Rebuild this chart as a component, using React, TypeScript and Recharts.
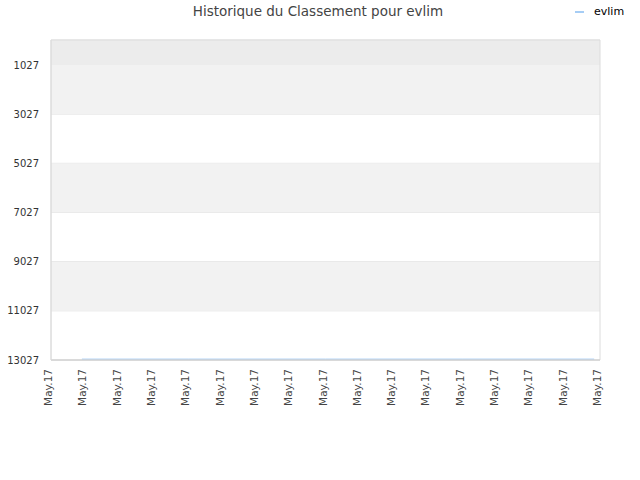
import React from 'react'
import { LineChart, Line, XAxis, YAxis, CartesianGrid, ReferenceArea } from 'recharts'

const title = 'Historique du Classement pour evlim'
const seriesName = 'evlim'
const tickLabel = 'May.17'

// x positions of the recorded points (in tick units) and the rank at each
const dayPositions = [0.9, 4, 8, 12, 15.83]
const ranks = [12990, 12990, 12990, 12990, 12990]

const xTicks = [0, 1, 2, 3, 4, 5, 6, 7, 8, 9, 10, 11, 12, 13, 14, 15, 16]
const yTicks = [1027, 3027, 5027, 7027, 9027, 11027, 13027]
const yDomain = [11, 13027]

const bands = [
  { from: 11, to: 1027, fill: '#ececec' },
  { from: 1027, to: 3027, fill: '#f2f2f2' },
  { from: 5027, to: 7027, fill: '#f2f2f2' },
  { from: 9027, to: 11027, fill: '#f2f2f2' },
]

const data = dayPositions.map((x, i) => ({ x, rank: ranks[i] }))

const font = "'DejaVu Sans', sans-serif"

const XTick = (props: any) => {
  const { x, y } = props
  return (
    <text
      x={0}
      y={0}
      transform={`translate(${x + 1},${y + 1}) rotate(-90)`}
      textAnchor="end"
      fontSize={10.5}
      fill="#444"
      fontFamily={font}
    >
      {tickLabel}
    </text>
  )
}

export default function App() {
  return (
    <div style={{ position: 'absolute', left: 0, top: 0, width: 640, height: 480, background: '#fff', fontFamily: font }}>
      <div style={{ position: 'absolute', top: 3, left: 0, width: 636, textAlign: 'center', fontSize: 13.5, color: '#444' }}>
        {title}
      </div>
      <div style={{ position: 'absolute', top: 5, left: 575, fontSize: 11, color: '#000', display: 'flex', alignItems: 'center' }}>
        <span style={{ display: 'inline-block', width: 9, height: 2, background: '#a6cdf5', marginRight: 10 }} />
        {seriesName}
      </div>
      <LineChart
        width={640}
        height={480}
        data={data}
        margin={{ top: 40, right: 40, left: 0, bottom: 0 }}
        style={{ position: 'absolute', left: 0, top: 0 }}
      >
        {bands.map((b, i) => (
          <ReferenceArea key={i} y1={b.from} y2={b.to} fill={b.fill} fillOpacity={1} stroke="none" ifOverflow="hidden" />
        ))}
        <CartesianGrid vertical={false} stroke="#e2e2e2" />
        <ReferenceArea y1={yDomain[0]} y2={yDomain[1]} fill="none" stroke="#dcdcdc" strokeWidth={1} />
        <XAxis
          dataKey="x"
          type="number"
          domain={[0, 16]}
          ticks={xTicks}
          interval={0}
          height={120}
          tick={<XTick />}
          tickLine={false}
          axisLine={{ stroke: '#ccc' }}
        />
        <YAxis
          type="number"
          domain={yDomain}
          reversed
          ticks={yTicks}
          interval={0}
          width={51}
          tickLine={false}
          axisLine={{ stroke: '#dcdcdc' }}
          tickMargin={6}
          tick={{ fontSize: 10, fill: '#333', fontFamily: font }}
        />
        <Line
          dataKey="rank"
          stroke="#a6cdf5"
          strokeWidth={1}
          dot={false}
          isAnimationActive={false}
        />
      </LineChart>
    </div>
  )
}
